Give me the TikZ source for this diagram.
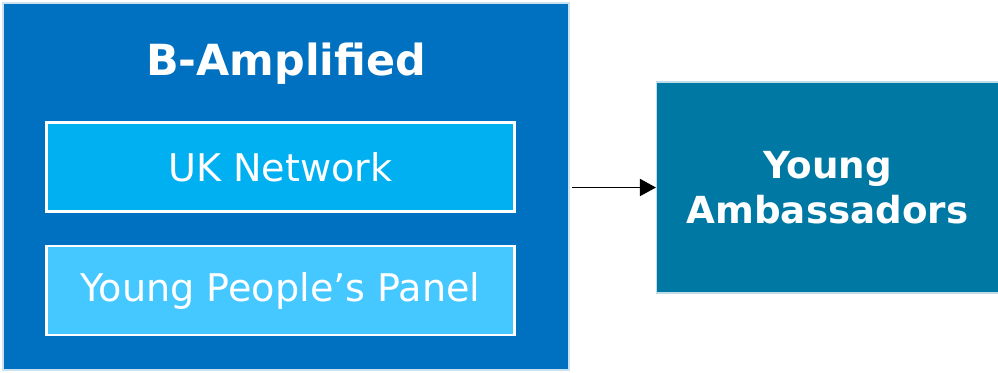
\documentclass[tikz,border=0pt]{standalone}
\usepackage{fontspec}
\setmainfont{DejaVu Sans}
\usepackage{tikz}
\usetikzlibrary{arrows.meta,positioning}
\definecolor{outerblue}{HTML}{0070C0}
\definecolor{netblue}{HTML}{00B0F0}
\definecolor{panelblue}{HTML}{45C8FF}
\definecolor{ambteal}{HTML}{0078A4}
\begin{document}
\begin{tikzpicture}[
group/.style={draw=white!80!outerblue, line width=0.6pt, fill=outerblue, minimum width=113.2mm, minimum height=73.4mm},
unit/.style={draw=white, line width=1.2pt, text=white, font=\fontsize{21.7}{26}\selectfont, minimum width=93.6mm, minimum height=17.8mm},
target/.style={draw=white!75!ambteal, line width=0.6pt, fill=ambteal, text=white, align=center, font=\bfseries\fontsize{21.2}{25.5}\selectfont, minimum width=68.4mm, minimum height=42.2mm},
arr/.style={-{Triangle[length=3.2mm,width=3.4mm]}, line width=1pt}
]
\useasboundingbox[fill=white] (0,0) rectangle (19.96,7.44);
\node[group] (bamp) at (5.72,3.71) {};
\node[text=white, font=\bfseries\fontsize{24.4}{29}\selectfont] (title) at (5.72,6.17) {B-Amplified};
\node[unit, fill=netblue] (network) at (5.61,4.10) {UK Network};
\node[unit, fill=panelblue] (panel) at (5.61,1.63) {Young People’s Panel};
\node[target] (ambassadors) at (16.55,3.69) {Young\\Ambassadors};

\draw[arr] ([xshift=0.4mm]bamp.east |- ambassadors.west) -- (ambassadors.west);
\end{tikzpicture}
\end{document}
